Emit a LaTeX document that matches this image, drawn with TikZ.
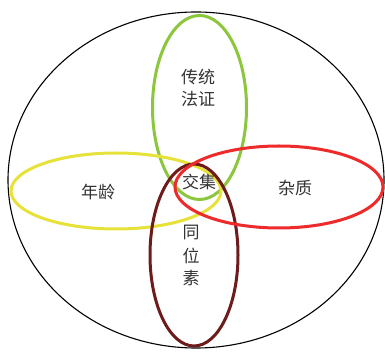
\documentclass[tikz,border=0pt]{standalone}
\usepackage{fontspec}
\newfontfamily\cjk{Noto Sans CJK SC}
\definecolor{cgreen}{HTML}{8CC63E}
\definecolor{cyellow}{HTML}{E6E23A}
\definecolor{cred}{HTML}{EE2A2A}
\definecolor{cmaroon}{HTML}{6E1B1B}
\definecolor{ctext}{HTML}{333333}
\begin{document}
\begin{tikzpicture}[x=1pt,y=-1pt,
  ring/.style={line width=3pt},
  lbl/.style={font=\cjk\fontsize{17}{20}\selectfont, text=ctext, inner sep=0pt}]
\useasboundingbox (0,0) rectangle (385,352);
\fill[white] (0,0) rectangle (385,352);
\draw[black, line width=1.1pt] (196,180) ellipse [x radius=188, y radius=168];
\draw[ring, cgreen] (199.5,107.5) ellipse [x radius=47, y radius=92];
\draw[ring, cyellow] (116,191) ellipse [x radius=105, y radius=38];
\draw[ring, cmaroon] (194,255) ellipse [x radius=44, y radius=91];
\draw[ring, cred] (279,187) ellipse [x radius=104, y radius=41];
\node[lbl] (a1) at (198,77) {传统};
\node[lbl] (a2) at (198,99) {法证};
\node[lbl] (b) at (199,182) {交集};
\node[lbl] (c) at (98,192) {年龄};
\node[lbl] (d) at (295,188) {杂质};
\node[lbl] (e1) at (191,233) {同};
\node[lbl] (e2) at (191,256) {位};
\node[lbl] (e3) at (191,278) {素};
\end{tikzpicture}
\end{document}
